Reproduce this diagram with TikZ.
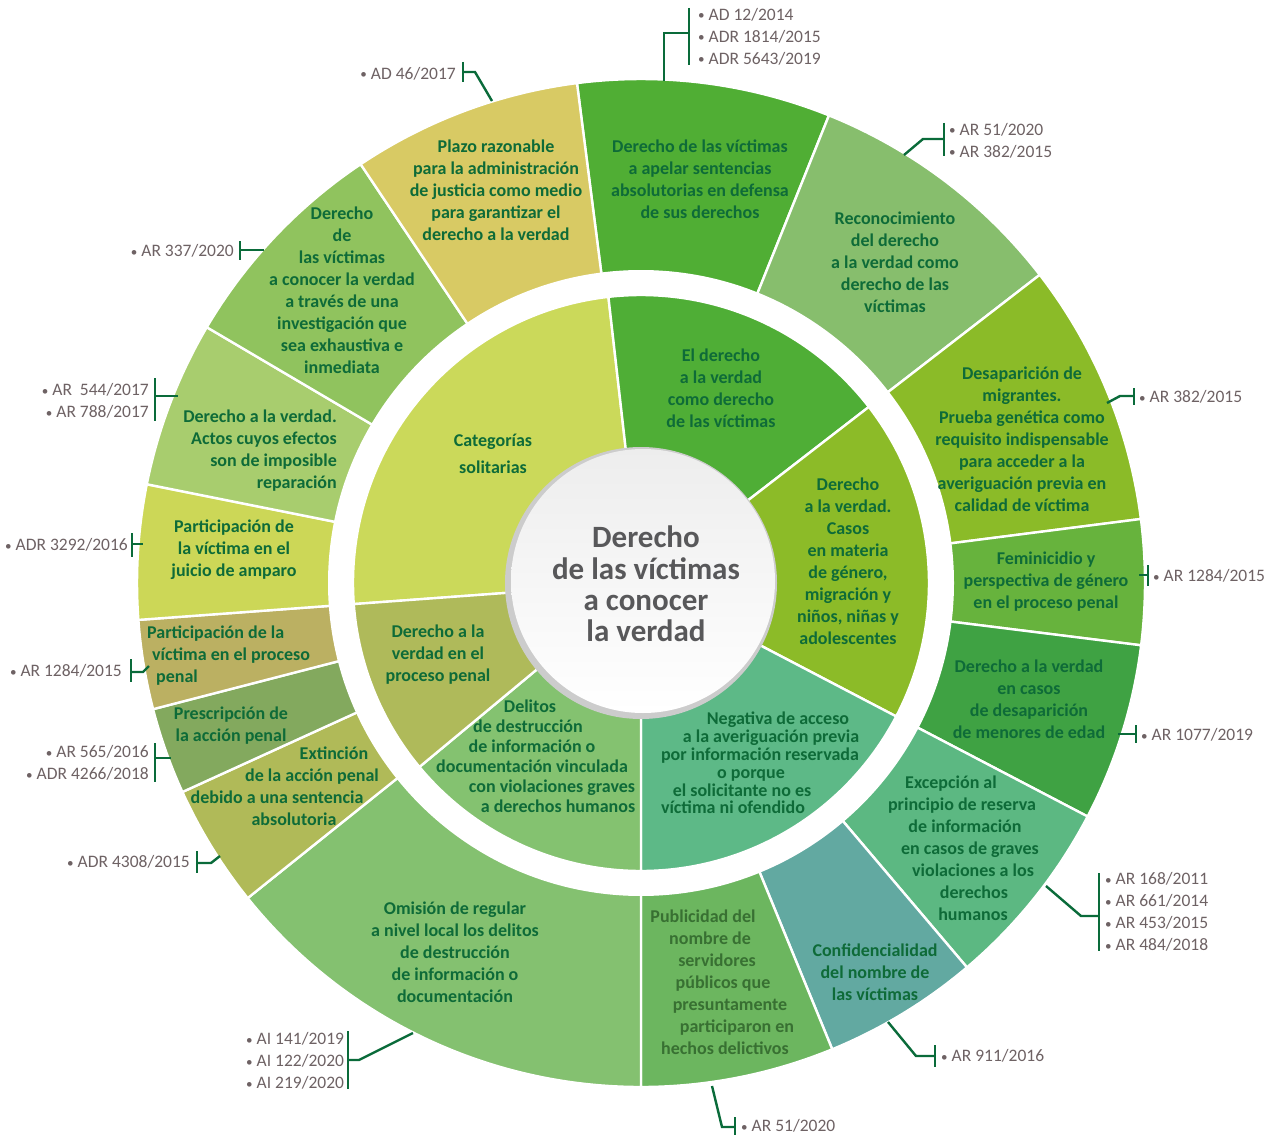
\documentclass[tikz,border=0pt]{standalone}
\usepackage{fontspec}
\setmainfont{Carlito}
\usetikzlibrary{calc}
\definecolor{cPlazo}{RGB}{216,202,100}
\definecolor{cApelar}{RGB}{80,174,52}
\definecolor{cRecon}{RGB}{135,190,109}
\definecolor{cDesap}{RGB}{139,187,40}
\definecolor{cFemin}{RGB}{103,179,61}
\definecolor{cMenor}{RGB}{63,162,67}
\definecolor{cExcep}{RGB}{92,184,130}
\definecolor{cConf}{RGB}{98,169,161}
\definecolor{cPubl}{RGB}{108,182,95}
\definecolor{cOmis}{RGB}{132,193,112}
\definecolor{cExtin}{RGB}{176,186,88}
\definecolor{cPresc}{RGB}{131,169,94}
\definecolor{cPpen}{RGB}{187,176,98}
\definecolor{cPamp}{RGB}{204,215,87}
\definecolor{cActos}{RGB}{168,205,110}
\definecolor{cConoc}{RGB}{144,195,94}
\definecolor{iCat}{RGB}{203,217,90}
\definecolor{iDer}{RGB}{79,174,54}
\definecolor{iCasos}{RGB}{140,187,40}
\definecolor{iNeg}{RGB}{93,185,135}
\definecolor{iDel}{RGB}{132,194,112}
\definecolor{iProc}{RGB}{175,186,90}
\definecolor{tgreen}{RGB}{14,107,56}
\definecolor{tpub}{RGB}{56,112,50}
\definecolor{rgray}{RGB}{110,98,100}
\definecolor{bgreen}{RGB}{10,107,58}
\definecolor{cgray}{RGB}{88,88,90}
\newcommand\sector[4]{\filldraw[fill=#1, sep] (O) -- ($(O)+(#2:#4)$) arc[start angle=#2, end angle=#3, radius=#4] -- cycle;}
\newcommand\tl[5][]{\node[sline,#1] (#2) at (#3,#4) {#5};}
\newcommand\smallbullet{\raisebox{0.5pt}{\scalebox{0.75}{\textbullet}}}
\newcommand\rl[5][]{\node[ref,#1] (#2) at (#3,#4) {\smallbullet\ #5};}
\begin{document}
\begin{tikzpicture}[x=1pt,y=-1pt,
  sectxt/.style={font=\bfseries\fontsize{18}{22}\selectfont, text=tgreen, align=center, inner sep=0pt},
  sline/.style={font=\bfseries\fontsize{18}{22}\selectfont, text=tgreen, inner sep=0pt, text height=12pt, text depth=4pt, yshift=-1.5pt},
  ref/.style={font=\fontsize{17.5}{22}\selectfont, text=rgray, inner sep=0pt, text height=12pt, text depth=4pt, yshift=-2.5pt},
  brk/.style={draw=bgreen, line width=2.4pt},
  sep/.style={draw=white, line width=2.4pt}]
\useasboundingbox (0,0) rectangle (1267,1137);
\fill[white] (0,0) rectangle (1267,1137);
\coordinate (O) at (641,583);
% outer ring
\sector{cApelar}{-97.3}{-68.1}{504}
\sector{cRecon}{-68.1}{-37.7}{504}
\sector{cDesap}{-37.7}{-7.3}{504}
\sector{cFemin}{-7.3}{7.1}{504}
\sector{cMenor}{7.1}{27.6}{504}
\sector{cExcep}{27.6}{49.7}{504}
\sector{cConf}{49.7}{67.7}{504}
\sector{cPubl}{67.7}{90}{504}
\sector{cOmis}{90}{141.3}{504}
\sector{cExtin}{141.3}{155.5}{504}
\sector{cPresc}{155.5}{165.5}{504}
\sector{cPpen}{165.5}{175.8}{504}
\sector{cPamp}{175.8}{191.3}{504}
\sector{cActos}{191.3}{210.5}{504}
\sector{cConoc}{210.5}{236.2}{504}
\sector{cPlazo}{236.2}{262.7}{504}
\fill[white] (O) circle[radius=313];
% inner ring
\sector{iCat}{175.8}{263.5}{288}
\sector{iDer}{-96.5}{-37.7}{288}
\sector{iCasos}{-37.7}{27.6}{288}
\sector{iNeg}{27.6}{90}{288}
\sector{iDel}{90}{140.3}{288}
\sector{iProc}{140.3}{175.8}{288}
% centre
\fill[gray!40] (O) circle[radius=136];
\shade[top color=gray!14, bottom color=white] ($(O)+(2,-2)$) circle[radius=132];
\node[font=\bfseries\fontsize{31}{31.3}\selectfont, text=cgray, align=center, inner sep=0pt] (centro) at (646,584) {Derecho\\de las víctimas\\a conocer\\la verdad};
% outer texts
\node[sectxt] (apelar) at (700,179) {Derecho de las víctimas\\a apelar sentencias\\absolutorias en defensa\\de sus derechos};
\node[sectxt] (recon) at (895,262) {Reconocimiento\\del derecho\\a la verdad como\\derecho de las\\víctimas};
\node[sectxt] (desap) at (1022,439) {Desaparición de\\migrantes.\\Prueba genética como\\requisito indispensable\\para acceder a la\\averiguación previa en\\calidad de víctima};
\node[sectxt] (femin) at (1046,582) {Feminicidio y\\perspectiva de género\\en el proceso penal};
\node[sectxt] (menor) at (1029,699) {Derecho a la verdad\\en casos\\de desaparición\\de menores de edad};
\tl{ex1}{951}{783}{Excepción al}
\tl{ex2}{962}{805}{principio de reserva}
\tl{ex3}{965}{827}{de información}
\tl{ex4}{970}{849}{en casos de graves}
\tl{ex5}{973}{871}{violaciones a los}
\tl{ex6}{974}{893}{derechos}
\tl{ex7}{973}{915}{humanos}
\node[sectxt] (conf) at (875,972) {Confidencialidad\\del nombre de\\las víctimas};
\tl[text=tpub]{pu1}{703}{917}{Publicidad del}
\tl[text=tpub]{pu2}{710}{939}{nombre de}
\tl[text=tpub]{pu3}{717}{961}{servidores}
\tl[text=tpub]{pu4}{723}{983}{públicos que}
\tl[text=tpub]{pu5}{730}{1005}{presuntamente}
\tl[text=tpub]{pu6}{737}{1027}{participaron en}
\tl[text=tpub]{pu7}{725}{1049}{hechos delictivos}
\node[sectxt] (omis) at (455,952) {Omisión de regular\\a nivel local los delitos\\de destrucción\\de información o\\documentación};
\tl{et1}{334}{754}{Extinción}
\tl{et2}{312}{776}{de la acción penal}
\tl{et3}{277}{798}{debido a una sentencia}
\tl{et4}{294}{820}{absolutoria}
\node[sectxt] (presc) at (231,726) {Prescripción de\\la acción penal};
\tl[anchor=west]{pp1}{147}{633}{Participación de la}
\tl[anchor=west]{pp2}{152}{655}{víctima en el proceso}
\tl[anchor=west]{pp3}{156}{677}{penal}
\node[sectxt] (pamp) at (234,550) {Participación de\\la víctima en el\\juicio de amparo};
\node[sectxt, align=right, anchor=east] (actos) at (337,451) {Derecho a la verdad.\\Actos cuyos efectos\\son de imposible\\reparación};
\node[sectxt] (conoc) at (342,290) {Derecho\\de\\las víctimas\\a conocer la verdad\\a través de una\\investigación que\\sea exhaustiva e\\inmediata};
\node[sectxt] (plazo) at (496,190) {Plazo razonable\\para la administración\\de justicia como medio\\para garantizar el\\derecho a la verdad};
% inner texts
\node[sectxt] (ider) at (721,388) {El derecho\\a la verdad\\como derecho\\de las víctimas};
\node[sectxt] (icasos) at (848,561) {Derecho\\a la verdad.\\Casos\\en materia\\de género,\\migración y\\niños, niñas y\\adolescentes};
\tl{ng1}{778}{719}{Negativa de acceso}
\tl{ng2}{771}{737}{a la averiguación previa}
\tl{ng3}{760}{755}{por información reservada}
\tl{ng4}{751}{773}{o porque}
\tl{ng5}{742}{791}{el solicitante no es}
\tl{ng6}{733}{808}{víctima ni ofendido}
\tl{dl1}{530}{707}{Delitos}
\tl{dl2}{528}{727}{de destrucción}
\tl{dl3}{532}{747}{de información o}
\tl{dl4}{532}{767}{documentación vinculada}
\tl{dl5}{552}{787}{con violaciones graves}
\tl{dl6}{558}{807}{a derechos humanos}
\node[sectxt] (iproc) at (438,655) {Derecho a la\\verdad en el\\proceso penal};
\node[sectxt, font=\bfseries\fontsize{18}{27}\selectfont] (icat) at (493,454) {Categorías\\solitarias};
% references and brackets
\coordinate (k1) at (463,72);
\draw[brk] (463,62) -- (463,82);
\draw[brk] (k1) -- (475,72) -- (492,101);
\rl[anchor=east]{r1}{456}{73}{AD 46/2017}
\coordinate (k2) at (689,33);
\draw[brk] (689,8) -- (689,65);
\draw[brk] (k2) -- (664,33) -- (664,81);
\rl[anchor=west]{r2a}{698}{14}{AD 12/2014}
\rl[anchor=west]{r2b}{698}{36}{ADR 1814/2015}
\rl[anchor=west]{r2c}{698}{58}{ADR 5643/2019}
\coordinate (k3) at (944,139);
\draw[brk] (944,123) -- (944,156);
\draw[brk] (k3) -- (923,139) -- (904,155);
\rl[anchor=west]{r3a}{949}{129}{AR 51/2020}
\rl[anchor=west]{r3b}{949}{151}{AR 382/2015}
\coordinate (k4) at (240,250);
\draw[brk] (240,241) -- (240,260);
\draw[brk] (k4) -- (264,250);
\rl[anchor=east]{r4}{234}{250}{AR 337/2020}
\coordinate (k5) at (155,396);
\draw[brk] (155,378) -- (155,421);
\draw[brk] (k5) -- (178,396);
\rl[anchor=east]{r5a}{149}{389}{AR~ 544/2017}
\rl[anchor=east]{r5b}{149}{411}{AR 788/2017}
\coordinate (k6) at (132,544);
\draw[brk] (132,533) -- (132,557);
\draw[brk] (k6) -- (143,544);
\rl[anchor=east]{r6}{128}{544}{ADR 3292/2016}
\coordinate (k7) at (131,672);
\draw[brk] (131,659) -- (131,682);
\draw[brk] (k7) -- (143,672) -- (149,666);
\rl[anchor=east]{r7}{122}{670}{AR 1284/2015}
\coordinate (k8) at (155,758);
\draw[brk] (155,743) -- (155,782);
\draw[brk] (k8) -- (171,758);
\rl[anchor=east]{r8a}{149}{751}{AR 565/2016}
\rl[anchor=east]{r8b}{149}{773}{ADR 4266/2018}
\coordinate (k9) at (197,863);
\draw[brk] (197,851) -- (197,873);
\draw[brk] (k9) -- (211,863) -- (220,856);
\rl[anchor=east]{r9}{190}{861}{ADR 4308/2015}
\coordinate (k10) at (348,1060);
\draw[brk] (348,1031) -- (348,1089);
\draw[brk] (k10) -- (359,1060) -- (413,1033);
\rl[anchor=west]{r10a}{246}{1038}{AI 141/2019}
\rl[anchor=west]{r10b}{246}{1060}{AI 122/2020}
\rl[anchor=west]{r10c}{246}{1082}{AI 219/2020}
\coordinate (k11) at (735,1127);
\draw[brk] (735,1117) -- (735,1135);
\draw[brk] (712,1086) -- (722,1127) -- (k11);
\rl[anchor=west]{r11}{741}{1125}{AR 51/2020}
\coordinate (k12) at (935,1056);
\draw[brk] (935,1045) -- (935,1067);
\draw[brk] (888,1022) -- (916,1056) -- (k12);
\rl[anchor=west]{r12}{941}{1055}{AR 911/2016}
\coordinate (k13) at (1099,916);
\draw[brk] (1099,873) -- (1099,951);
\draw[brk] (1046,886) -- (1081,916) -- (k13);
\rl[anchor=west]{r13a}{1105}{878}{AR 168/2011}
\rl[anchor=west]{r13b}{1105}{900}{AR 661/2014}
\rl[anchor=west]{r13c}{1105}{922}{AR 453/2015}
\rl[anchor=west]{r13d}{1105}{944}{AR 484/2018}
\coordinate (k14) at (1136,734);
\draw[brk] (1136,725) -- (1136,743);
\draw[brk] (1118,734) -- (k14);
\rl[anchor=west]{r14}{1141}{734}{AR 1077/2019}
\coordinate (k15) at (1148,575);
\draw[brk] (1148,565) -- (1148,586);
\draw[brk] (1139,575) -- (k15);
\rl[anchor=west]{r15}{1153}{575}{AR 1284/2015}
\coordinate (k16) at (1134,396);
\draw[brk] (1134,388) -- (1134,405);
\draw[brk] (1107,403) -- (1120,396) -- (k16);
\rl[anchor=west]{r16}{1139}{396}{AR 382/2015}
\end{tikzpicture}
\end{document}
